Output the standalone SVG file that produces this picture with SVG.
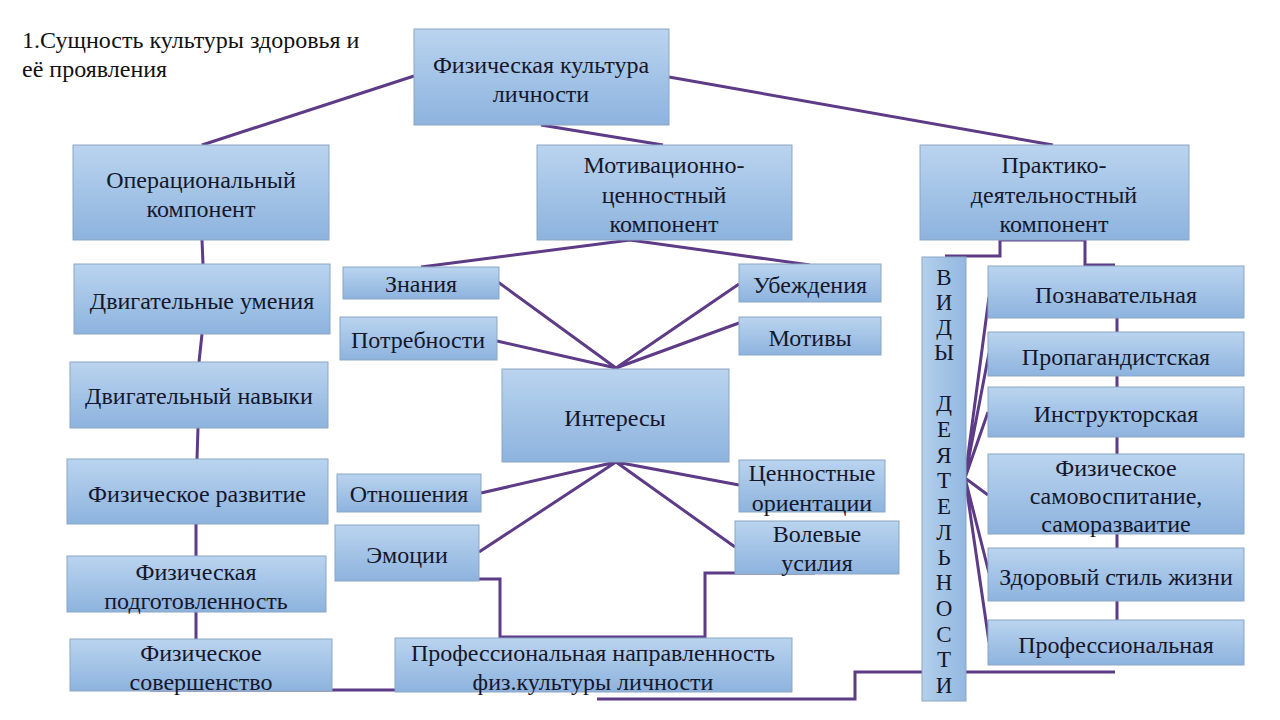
<svg xmlns="http://www.w3.org/2000/svg" width="1280" height="720" viewBox="0 0 1280 720">
<defs>
<linearGradient id="g" x1="0" y1="0" x2="0" y2="1">
<stop offset="0" stop-color="#bad4ef"/>
<stop offset="1" stop-color="#8db3de"/>
</linearGradient>
<linearGradient id="gv" x1="0" y1="0" x2="1" y2="0">
<stop offset="0" stop-color="#b3cfec"/>
<stop offset="1" stop-color="#93b8e0"/>
</linearGradient>
</defs>
<style>
.b{fill:url(#g);stroke:#8aa6c3;stroke-width:1}
.bv{fill:url(#gv);stroke:#8aa6c3;stroke-width:1}
text{font-family:"Liberation Serif","Times New Roman",serif;font-size:24px;fill:#15172b;text-anchor:middle}
.t{text-anchor:start;fill:#111}
.v{font-size:23px}
.c{fill:none;stroke:#5d3b86;stroke-width:3;stroke-linejoin:miter}
</style>
<rect width="1280" height="720" fill="#ffffff"/>
<g id="title"><text class="t" x="22" y="48">1.Сущность культуры здоровья и</text><text class="t" x="22" y="77">её проявления</text></g>

<g id="connectors">
<path class="c" d="M414,76 L202,145"/>
<path class="c" d="M669,77 L1053,145"/>
<path class="c" d="M541,125 L663,145"/>
<path class="c" d="M421,267 L630,240 L810,265"/>
<path class="c" d="M498,282 L616,368 M497,341 L616,368 M739,284 L616,368 M739,323 L616,368"/>
<path class="c" d="M481,493 L616,462 M479,552 L616,462 M739,485 L616,462 M735,547 L616,462"/>
<path class="c" d="M202,240 L203,264 M202,334 L199,362 M198,428 L197,459 M196,524 L196,556 M196,612 L196,639"/>
<path class="c" d="M408,579 L500,579 L500,637 L705,637 L705,573 L815,573"/>
<path class="c" d="M150,690 L600,690"/>
<path class="c" d="M597,699 L855,699 L855,672 L1115,672"/>
<path class="c" d="M945,256 L1000,256 L1000,240 L1085,240 L1085,265 L1115,265"/>
<path class="c" d="M1117,318 V332 M1117,376 V387 M1117,437 V454 M1117,534 V548 M1117,601 V620"/>
<path class="c" d="M965,478 L989,297 M965,478 L989,353 M965,478 L988,412 M965,478 L988,495 M965,478 L989,573 M965,478 L989,642"/>
</g>

<g id="n-fk"><rect class="b" x="414" y="29" width="255" height="96"/><text x="541" y="73">Физическая культура</text><text x="541" y="102">личности</text></g>
<g id="n-oper"><rect class="b" x="73" y="145" width="256" height="95"/><text x="201" y="188">Операциональный</text><text x="201" y="217">компонент</text></g>
<g id="n-motiv"><rect class="b" x="537" y="145" width="255" height="95"/><text x="664" y="173">Мотивационно-</text><text x="664" y="203">ценностный</text><text x="664" y="232">компонент</text></g>
<g id="n-prakt"><rect class="b" x="920" y="145" width="269" height="95"/><text x="1054" y="173">Практико-</text><text x="1054" y="203">деятельностный</text><text x="1054" y="232">компонент</text></g>

<g id="n-du"><rect class="b" x="74" y="264" width="256" height="70"/><text x="202" y="309">Двигательные умения</text></g>
<g id="n-dn"><rect class="b" x="70" y="362" width="258" height="66"/><text x="199" y="404">Двигательный навыки</text></g>
<g id="n-fr"><rect class="b" x="67" y="459" width="261" height="65"/><text x="197" y="502">Физическое развитие</text></g>
<g id="n-fp"><rect class="b" x="67" y="556" width="259" height="56"/><text x="196" y="580">Физическая</text><text x="196" y="609">подготовленность</text></g>
<g id="n-fs"><rect class="b" x="70" y="639" width="262" height="52"/><text x="201" y="661">Физическое</text><text x="201" y="690">совершенство</text></g>

<g id="n-zn"><rect class="b" x="343" y="267" width="156" height="32"/><text x="421" y="292">Знания</text></g>
<g id="n-potr"><rect class="b" x="340" y="317" width="157" height="43"/><text x="418" y="348">Потребности</text></g>
<g id="n-ub"><rect class="b" x="739" y="264" width="142" height="38"/><text x="810" y="293">Убеждения</text></g>
<g id="n-mot"><rect class="b" x="739" y="317" width="142" height="38"/><text x="810" y="346">Мотивы</text></g>
<g id="n-int"><rect class="b" x="502" y="369" width="227" height="93"/><text x="615" y="426">Интересы</text></g>
<g id="n-otn"><rect class="b" x="337" y="474" width="144" height="38"/><text x="409" y="502">Отношения</text></g>
<g id="n-em"><rect class="b" x="335" y="525" width="144" height="56"/><text x="407" y="563">Эмоции</text></g>
<g id="n-co"><rect class="b" x="739" y="460" width="146" height="52"/><text x="812" y="481">Ценностные</text><text x="812" y="511">ориентации</text></g>
<g id="n-vu"><rect class="b" x="735" y="521" width="164" height="53"/><text x="817" y="542">Волевые</text><text x="817" y="571">усилия</text></g>
<g id="n-pn"><rect class="b" x="395" y="638" width="397" height="54"/><text x="593" y="661">Профессиональная направленность</text><text x="593" y="690">физ.культуры личности</text></g>

<g id="n-vid"><rect class="bv" x="922" y="257" width="44" height="444"/>
<text class="v" x="944" y="285">В</text><text class="v" x="944" y="310">И</text><text class="v" x="944" y="335">Д</text><text class="v" x="944" y="360">Ы</text>
<text class="v" x="944" y="411">Д</text><text class="v" x="944" y="437">Е</text><text class="v" x="944" y="463">Я</text><text class="v" x="944" y="488">Т</text><text class="v" x="944" y="514">Е</text><text class="v" x="944" y="540">Л</text><text class="v" x="944" y="565">Ь</text><text class="v" x="944" y="590">Н</text><text class="v" x="944" y="616">О</text><text class="v" x="944" y="642">С</text><text class="v" x="944" y="667">Т</text><text class="v" x="944" y="693">И</text>
</g>

<g id="n-pozn"><rect class="b" x="988" y="266" width="256" height="52"/><text x="1116" y="303">Познавательная</text></g>
<g id="n-prop"><rect class="b" x="988" y="332" width="256" height="44"/><text x="1116" y="365">Пропагандистская</text></g>
<g id="n-instr"><rect class="b" x="988" y="387" width="256" height="50"/><text x="1116" y="422">Инструкторская</text></g>
<g id="n-fsv"><rect class="b" x="988" y="454" width="256" height="80"/><text x="1116" y="476">Физическое</text><text x="1116" y="504">самовоспитание,</text><text x="1116" y="532">саморазваитие</text></g>
<g id="n-zsg"><rect class="b" x="988" y="548" width="256" height="53"/><text x="1116" y="585">Здоровый стиль жизни</text></g>
<g id="n-prof"><rect class="b" x="988" y="620" width="256" height="45"/><text x="1116" y="653">Профессиональная</text></g>
</svg>
